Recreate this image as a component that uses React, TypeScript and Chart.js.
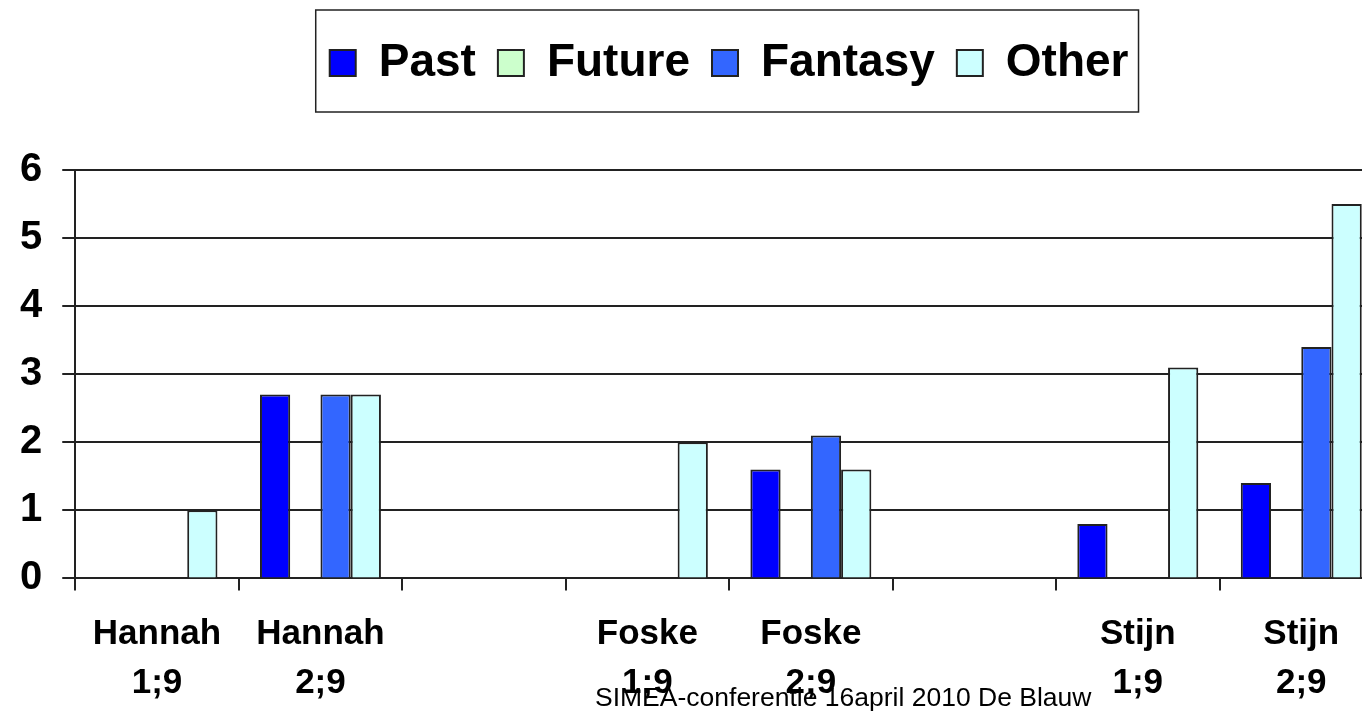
import React, { useEffect, useRef } from "react";
import { Chart, registerables } from "chart.js";

Chart.register(...registerables);

const categories: (string | string[])[] = [
  ["Hannah", "1;9"],
  ["Hannah", "2;9"],
  "",
  ["Foske", "1;9"],
  ["Foske", "2;9"],
  "",
  ["Stijn", "1;9"],
  ["Stijn", "2;9"],
];
const seriesNames = ["Past", "Future", "Fantasy", "Other"];
const pastValues = [null, 2.7, null, null, 1.6, null, 0.8, 1.4];
const futureValues = [null, null, null, null, null, null, null, null];
const fantasyValues = [null, 2.7, null, null, 2.1, null, null, 3.4];
const otherValues = [1.0, 2.7, null, 2.0, 1.6, null, 3.1, 5.5];
const seriesColors = ["#0000FF", "#CCFFCC", "#3366FF", "#CCFFFF"];
const yTicks = [0, 1, 2, 3, 4, 5, 6];
const footerText = "SIMEA-conferentie 16april 2010 De Blauw";

const FONT = "'Liberation Sans', Arial, sans-serif";

export default function App() {
  const ref = useRef<HTMLCanvasElement | null>(null);

  useEffect(() => {
    const canvas = ref.current;
    if (!canvas) return;
    const values = [pastValues, futureValues, fantasyValues, otherValues];

    const legendTweak = {
      id: "legendTweak",
      afterInit(chart: any) {
        const lg = chart.legend;
        if (!lg) return;
        const orig = lg.fit.bind(lg);
        lg.fit = () => {
          orig();
          lg.height += 74;
        };
      },
      afterDraw(chart: any) {
        const lg = chart.legend;
        if (!lg || !lg.legendHitBoxes || !lg.legendHitBoxes.length) return;
        const boxes = lg.legendHitBoxes;
        const first = boxes[0];
        const last = boxes[boxes.length - 1];
        const left = first.left - 14;
        const right = last.left + last.width + 10;
        const cy = first.top + first.height / 2;
        const ctx = chart.ctx;
        ctx.save();
        ctx.strokeStyle = "#222";
        ctx.lineWidth = 1.5;
        ctx.strokeRect(left, cy - 53, right - left, 102);
        ctx.restore();
      },
    };

    const chart = new Chart(canvas, {
      type: "bar",
      data: {
        labels: categories,
        datasets: seriesNames.map((name, i) => ({
          label: name,
          data: values[i],
          backgroundColor: seriesColors[i],
          borderColor: "#222",
          borderWidth: 2,
          categoryPercentage: 0.74,
          barPercentage: 1.0,
        })),
      },
      options: {
        responsive: false,
        animation: false,
        layout: { padding: { left: 0, right: 17, top: 18, bottom: 8 } },
        plugins: {
          legend: {
            display: true,
            position: "top",
            fullSize: false,
            labels: {
              boxWidth: 26,
              boxHeight: 26,
              padding: 22,
              color: "#000",
              font: { family: FONT, size: 46, weight: "bold" },
            },
          },
          tooltip: { enabled: false },
        },
        scales: {
          x: {
            offset: true,
            grid: {
              offset: true,
              drawOnChartArea: false,
              drawTicks: true,
              tickLength: 12,
              color: "#222",
              lineWidth: 2,
            },
            border: { color: "#222", width: 2 },
            ticks: {
              color: "#000",
              padding: 20,
              maxRotation: 0,
              autoSkip: false,
              font: { family: FONT, size: 35, weight: "bold", lineHeight: 1.38 },
            },
          },
          y: {
            min: 0,
            max: 6,
            afterBuildTicks: (axis: any) => {
              axis.ticks = yTicks.map((v) => ({ value: v }));
            },
            grid: {
              color: "#222",
              lineWidth: 2,
              tickLength: 13,
            },
            border: { color: "#222", width: 2 },
            ticks: {
              color: "#000",
              padding: 20,
              font: { family: FONT, size: 40, weight: "bold" },
            },
          },
        },
      },
      plugins: [legendTweak],
    } as any);

    return () => chart.destroy();
  }, []);

  return (
    <div
      style={{
        position: "fixed",
        left: 0,
        top: 0,
        width: 1362,
        height: 711,
        overflow: "hidden",
        background: "#fff",
      }}
    >
      <canvas ref={ref} width={1400} height={735} style={{ display: "block" }} />
      <div
        style={{
          position: "absolute",
          left: 595,
          top: 684,
          fontFamily: FONT,
          fontSize: 26.5,
          lineHeight: "26.5px",
          color: "#000",
          whiteSpace: "nowrap",
        }}
      >
        {footerText}
      </div>
    </div>
  );
}
